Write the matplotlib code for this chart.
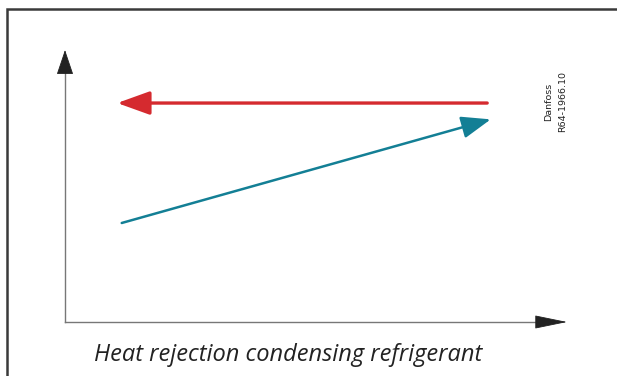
import matplotlib
matplotlib.use('Agg')
import matplotlib.pyplot as plt
from matplotlib.patches import Rectangle

# schematic values (fractions of axis range)
condensing_x = [0.841, 0.104]   # refrigerant: start -> tip
condensing_y = [0.805, 0.805]
air_x = [0.113, 0.848]          # cooling air: start -> tip
air_y = [0.364, 0.745]

caption = 'Heat rejection condensing refrigerant'
ref_lines = ['Danfoss', 'R64-1966.10']

W, H = 617, 376
fig = plt.figure(figsize=(W / 100, H / 100), dpi=100)

# outer frame (runs off the right and bottom edge)
fig.patches.append(Rectangle((7 / W, -0.05), 1.2, (H - 9) / H + 0.05,
                             transform=fig.transFigure, fill=False,
                             edgecolor='#3a3a3a', linewidth=1.8))

# axes box: origin at (65, 322) px, right end 567 px, top 50 px
ax = fig.add_axes([65 / W, (H - 322) / H, (567 - 65) / W, (322 - 50) / H])
ax.set_xlim(0, 1)
ax.set_ylim(0, 1)
ax.axis('off')

# axis lines + arrow heads (short shafts hidden under the heads)
ax.plot([0, 0.96], [0, 0], color='#777777', lw=1.0, clip_on=False)
ax.plot([0, 0], [0, 0.95], color='#777777', lw=1.0, clip_on=False)
ax.annotate('', xy=(1, 0), xytext=(0.97, 0), xycoords='axes fraction',
            arrowprops=dict(arrowstyle='-|>,head_length=2.1,head_width=0.43',
                            color='#222222', lw=0.6, shrinkA=0, shrinkB=0))
ax.annotate('', xy=(0, 1), xytext=(0, 0.97), xycoords='axes fraction',
            arrowprops=dict(arrowstyle='-|>,head_length=1.6,head_width=0.54',
                            color='#222222', lw=0.6, shrinkA=0, shrinkB=0))

# refrigerant (condensing, constant temperature)
ax.annotate('', xy=(condensing_x[1], condensing_y[1]),
            xytext=(condensing_x[0], condensing_y[0]),
            arrowprops=dict(arrowstyle='-|>,head_length=2.0,head_width=0.72',
                            color='#d52a2f', lw=2.4, shrinkA=0, shrinkB=0))

# cooling air (temperature rising)
ax.annotate('', xy=(air_x[1], air_y[1]), xytext=(air_x[0], air_y[0]),
            arrowprops=dict(arrowstyle='-|>,head_length=1.8,head_width=0.68',
                            color='#137f95', lw=1.8, shrinkA=0, shrinkB=0))

# reference number, rotated
fig.text(549 / W, 1 - 102 / H, ref_lines[0], rotation=90, ha='center',
         va='center', fontsize=6.8, family='Liberation Sans Narrow',
         color='#222222')
fig.text(563 / W, 1 - 102 / H, ref_lines[1], rotation=90, ha='center',
         va='center', fontsize=6.8, family='Liberation Sans Narrow',
         color='#222222')

fig.text(288 / W, 1 - 355 / H, caption, ha='center', va='center',
         fontsize=17, style='italic', family='Open Sans', color='#222222')

fig.savefig('out.png', dpi=100)
